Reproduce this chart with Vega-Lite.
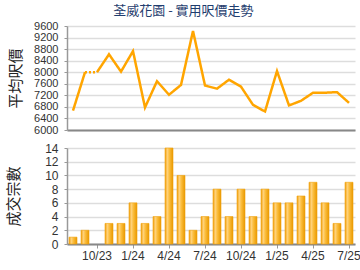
{
  "$schema": "https://vega.github.io/schema/vega-lite/v6.json",
  "padding": {"left": 6, "top": 5, "right": 5, "bottom": 5},
  "background": "white",
  "title": {"text": "荃威花園 - 實用呎價走勢", "font": "Noto Sans CJK TC", "fontSize": 13, "fontWeight": "normal", "color": "#1f3d6e", "anchor": "middle", "offset": 2},
  "config": {
    "view": {"stroke": null},
    "axis": {"labelFont": "Liberation Sans", "labelFontSize": 11, "labelColor": "#333333", "gridColor": "#dddddd", "gridWidth": 1.5, "domainColor": "#999999", "tickColor": "#999999", "titleFont": "Noto Sans CJK TC", "titleFontWeight": "normal", "titleFontSize": 15, "titleColor": "#222222"},
    "concat": {"spacing": 18}
  },
  "bounds": "flush",
  "datasets": {
    "price": [
      {"m": "8/23", "price": 6670, "seg": "a"},
      {"m": "9/23", "price": 8000, "seg": "a"},
      {"m": "9/23", "price": 8000, "seg": "b"},
      {"m": "10/23", "price": 8000, "seg": "b"},
      {"m": "10/23", "price": 8000, "seg": "c"},
      {"m": "11/23", "price": 8620, "seg": "c"},
      {"m": "12/23", "price": 8020, "seg": "c"},
      {"m": "1/24", "price": 8730, "seg": "c"},
      {"m": "2/24", "price": 6780, "seg": "c"},
      {"m": "3/24", "price": 7690, "seg": "c"},
      {"m": "4/24", "price": 7220, "seg": "c"},
      {"m": "5/24", "price": 7560, "seg": "c"},
      {"m": "6/24", "price": 9430, "seg": "c"},
      {"m": "7/24", "price": 7540, "seg": "c"},
      {"m": "8/24", "price": 7430, "seg": "c"},
      {"m": "9/24", "price": 7740, "seg": "c"},
      {"m": "10/24", "price": 7500, "seg": "c"},
      {"m": "11/24", "price": 6870, "seg": "c"},
      {"m": "12/24", "price": 6640, "seg": "c"},
      {"m": "1/25", "price": 8040, "seg": "c"},
      {"m": "2/25", "price": 6850, "seg": "c"},
      {"m": "3/25", "price": 7010, "seg": "c"},
      {"m": "4/25", "price": 7290, "seg": "c"},
      {"m": "5/25", "price": 7290, "seg": "c"},
      {"m": "6/25", "price": 7310, "seg": "c"},
      {"m": "7/25", "price": 6940, "seg": "c"}
    ],
    "count": [
      {"m": "8/23", "n": 1},
      {"m": "9/23", "n": 2},
      {"m": "11/23", "n": 3},
      {"m": "12/23", "n": 3},
      {"m": "1/24", "n": 6},
      {"m": "2/24", "n": 3},
      {"m": "3/24", "n": 4},
      {"m": "4/24", "n": 14},
      {"m": "5/24", "n": 10},
      {"m": "6/24", "n": 2},
      {"m": "7/24", "n": 4},
      {"m": "8/24", "n": 8},
      {"m": "9/24", "n": 4},
      {"m": "10/24", "n": 8},
      {"m": "11/24", "n": 4},
      {"m": "12/24", "n": 8},
      {"m": "1/25", "n": 6},
      {"m": "2/25", "n": 6},
      {"m": "3/25", "n": 7},
      {"m": "4/25", "n": 9},
      {"m": "5/25", "n": 6},
      {"m": "6/25", "n": 3},
      {"m": "7/25", "n": 9}
    ]
  },
  "vconcat": [
    {
      "width": 288,
      "height": 104,
      "data": {"name": "price"},
      "mark": {"type": "line", "color": "#ffa500", "strokeWidth": 2.5, "strokeJoin": "miter"},
      "encoding": {
        "x": {"field": "m", "type": "ordinal", "sort": null,
          "scale": {"domain": ["8/23","9/23","10/23","11/23","12/23","1/24","2/24","3/24","4/24","5/24","6/24","7/24","8/24","9/24","10/24","11/24","12/24","1/25","2/25","3/25","4/25","5/25","6/25","7/25"], "paddingInner": 0, "paddingOuter": 0},
          "axis": {"title": null, "labels": false, "ticks": false, "values": ["10/23","1/24","4/24","7/24","10/24","1/25","4/25","7/25"], "domainWidth": 2, "domainColor": "#888888"}},
        "y": {"field": "price", "type": "quantitative",
          "scale": {"domain": [6000, 9600], "nice": false, "zero": false},
          "axis": {"title": "平均呎價", "format": "d", "values": [6000,6400,6800,7200,7600,8000,8400,8800,9200,9600], "tickSize": 3, "labelPadding": 6, "titlePadding": 10, "domainWidth": 1.5}},
        "strokeDash": {"field": "seg", "type": "nominal", "scale": {"domain": ["a","b","c"], "range": [[1,0],[2,2],[1,0]]}, "legend": null}
      }
    },
    {
      "width": 288,
      "height": 96,
      "data": {"name": "count"},
      "mark": {"type": "bar", "size": 8, "stroke": "#f2a30a", "strokeWidth": 0.6,
        "fill": {"gradient": "linear", "x1": 0, "x2": 1, "y1": 0, "y2": 0,
          "stops": [{"offset": 0, "color": "#f0a010"}, {"offset": 0.3, "color": "#ffd27a"}, {"offset": 0.55, "color": "#fbbd3c"}, {"offset": 1, "color": "#e89800"}]}},
      "encoding": {
        "x": {"field": "m", "type": "ordinal", "sort": null,
          "scale": {"domain": ["8/23","9/23","10/23","11/23","12/23","1/24","2/24","3/24","4/24","5/24","6/24","7/24","8/24","9/24","10/24","11/24","12/24","1/25","2/25","3/25","4/25","5/25","6/25","7/25"], "paddingInner": 0, "paddingOuter": 0},
          "axis": {"title": null, "labelAngle": 0, "values": ["10/23","1/24","4/24","7/24","10/24","1/25","4/25","7/25"], "tickSize": 4, "labelPadding": 2, "domainWidth": 2, "domainColor": "#888888", "labelFontSize": 12}},
        "y": {"field": "n", "type": "quantitative",
          "scale": {"domain": [0, 14], "nice": false},
          "axis": {"title": "成交宗數", "values": [0,2,4,6,8,10,12,14], "tickSize": 3, "labelPadding": 6, "titlePadding": 23, "domainWidth": 1.5, "labelFontSize": 12}}
      }
    }
  ]
}
